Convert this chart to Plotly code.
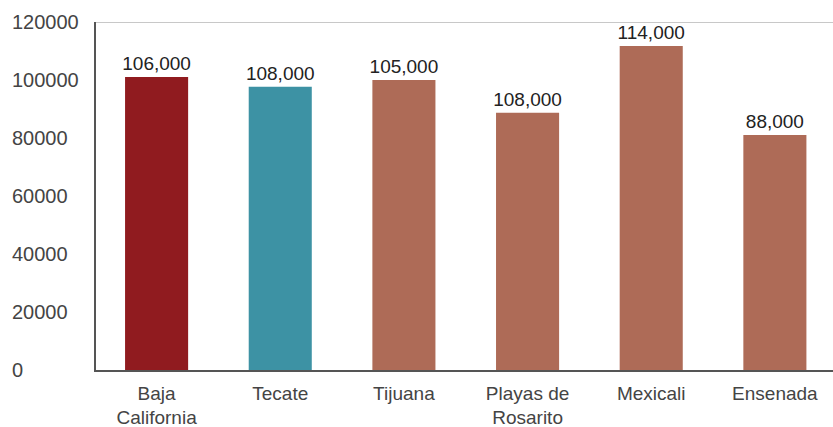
import plotly.graph_objects as go

categories = ["Baja<br>California", "Tecate", "Tijuana", "Playas de<br>Rosarito", "Mexicali", "Ensenada"]
bar_values = [101000, 97700, 100000, 88700, 111700, 81000]
bar_labels = ["106,000", "108,000", "105,000", "108,000", "114,000", "88,000"]
bar_colors = ["#901B1F", "#3D92A4", "#AE6B57", "#AE6B57", "#AE6B57", "#AE6B57"]
y_ticks = [0, 20000, 40000, 60000, 80000, 100000, 120000]

FONT = "Liberation Sans, Arial, sans-serif"

fig = go.Figure()
fig.add_trace(go.Bar(
    x=list(range(len(categories))),
    y=bar_values,
    marker=dict(color=bar_colors, line=dict(width=0)),
    text=bar_labels,
    textposition="outside",
    constraintext="none",
    textfont=dict(family=FONT, size=19, color="#222222"),
    cliponaxis=False,
    width=0.51,
))

annotations = []
for v in y_ticks:
    annotations.append(dict(
        x=0, xref="paper", y=v, yref="y",
        text=str(v), showarrow=False, xanchor="left", yanchor="middle",
        xshift=-86, font=dict(family=FONT, size=20, color="#444444"),
    ))

fig.update_layout(
    width=833, height=427,
    margin=dict(l=96, r=0, t=22, b=57),
    paper_bgcolor="white", plot_bgcolor="white",
    showlegend=False,
    annotations=annotations,
    shapes=[dict(type="line", xref="paper", yref="y", x0=0, x1=1, y0=120000, y1=120000,
                 line=dict(color="#c8c8c8", width=2))],
    xaxis=dict(
        range=[-0.49, 5.47],
        tickmode="array", tickvals=list(range(len(categories))), ticktext=categories,
        showline=True, linecolor="#555555", linewidth=1.5,
        ticks="outside", ticklen=5, tickcolor="rgba(0,0,0,0)",
        tickfont=dict(family=FONT, size=19, color="#444444"),
        showgrid=False, zeroline=False, fixedrange=True, automargin=False,
    ),
    yaxis=dict(
        range=[0, 120000],
        showticklabels=False, showgrid=False, zeroline=False,
        showline=True, linecolor="#555555", linewidth=1.5,
        fixedrange=True, automargin=False,
    ),
)

fig.write_html(
    "out.html",
    config={"displayModeBar": False},
    post_script="document.body.style.margin='0';document.body.style.overflow='hidden';",
)
